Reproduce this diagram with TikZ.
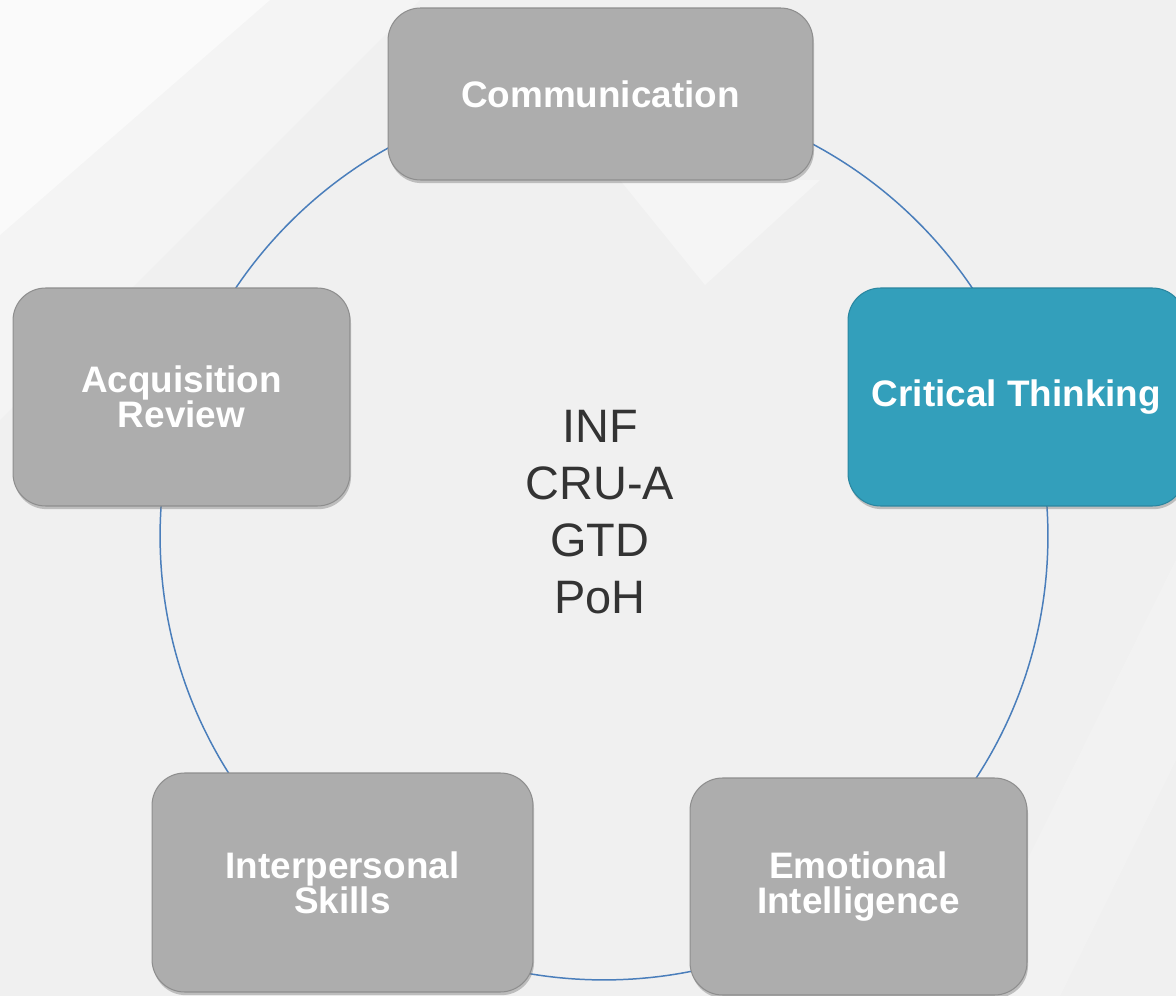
\documentclass[tikz,border=0pt]{standalone}
\usepackage{fontspec}
\setmainfont{Liberation Sans}
\usepackage{tikz}
\usetikzlibrary{shadows}
\definecolor{bggray}{HTML}{F0F0F0}
\definecolor{boxgray}{HTML}{ADADAD}
\definecolor{boxedge}{HTML}{8E8E8E}
\definecolor{tealbox}{HTML}{339FBB}
\definecolor{tealedge}{HTML}{2A86A0}
\definecolor{ringblue}{HTML}{4A7EBB}
\definecolor{coretext}{HTML}{333333}
\tikzset{
  skillbox/.style={rectangle, rounded corners=0.65cm, fill=boxgray, draw=boxedge,
    line width=0.6pt, text=white, align=center,
    font=\fontsize{21}{20}\selectfont\bfseries,
    drop shadow={opacity=0.45, shadow xshift=0.6pt, shadow yshift=-1.8pt}},
  hotbox/.style={skillbox, fill=tealbox, draw=tealedge}
}
\begin{document}
\begin{tikzpicture}[x=0.02cm, y=-0.02cm]
    \useasboundingbox (0,0) rectangle (1176,996);
    \fill[bggray] (0,0) rectangle (1176,996);
    \fill[white, opacity=0.7] (0,0) -- (270,0) -- (0,235) -- cycle;
    \fill[white, opacity=0.3] (270,0) -- (420,0) -- (0,420) -- (0,235) -- cycle;
    \fill[white, opacity=0.35] (620,180) -- (820,180) -- (705,285) -- cycle;
    \fill[white, opacity=0.18] (1176,560) -- (1176,760) -- (1060,996) -- (960,996) -- cycle;
    \node[circle, draw=ringblue, line width=0.85pt, minimum size=17.76cm, inner sep=0pt] (ring) at (604,536) {};
    \node[skillbox, minimum width=8.5cm, minimum height=3.44cm] (comm) at (600.5,94) {Communication};
    \node[hotbox, minimum width=6.74cm, minimum height=4.36cm] (crit) at (1016.5,397) {Critical Thinking};
    \node[skillbox, minimum width=6.74cm, minimum height=4.34cm] (emot) at (858.5,886.5) {Emotional\\Intelligence};
    \node[skillbox, minimum width=7.62cm, minimum height=4.38cm] (inter) at (342.5,882.5) {Interpersonal\\Skills};
    \node[skillbox, minimum width=6.74cm, minimum height=4.36cm] (acq) at (181.5,397) {Acquisition\\Review};
    \node[align=center, text=coretext, font=\fontsize{26.7}{32.3}\selectfont] (core) at (600,512) {INF\\CRU-A\\GTD\\PoH};
\end{tikzpicture}
\end{document}
